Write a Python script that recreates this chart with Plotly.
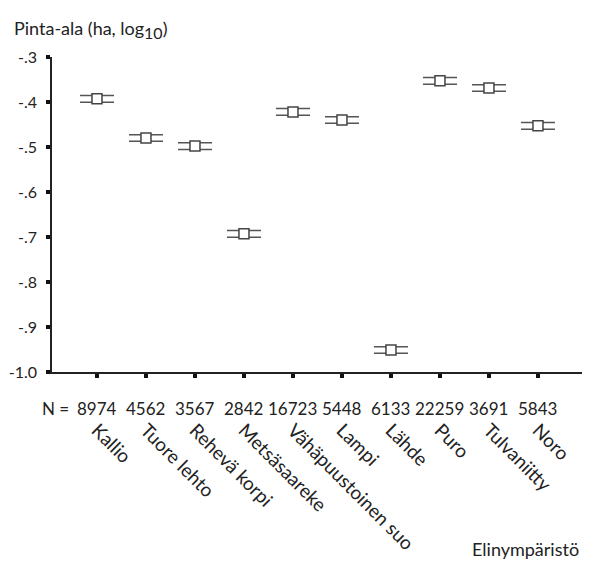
import plotly.graph_objects as go

categories = ["Kallio", "Tuore lehto", "Rehevä korpi", "Metsäsaareke", "Vähäpuustoinen suo",
              "Lampi", "Lähde", "Puro", "Tulvaniitty", "Noro"]
means = [-0.393, -0.480, -0.498, -0.693, -0.422, -0.440, -0.951, -0.353, -0.369, -0.453]
errors = [0.0073, 0.0073, 0.0073, 0.0073, 0.0073, 0.0073, 0.0073, 0.0073, 0.0073, 0.0073]
n_values = ["8974", "4562", "3567", "2842", "16723", "5448", "6133", "22259", "3691", "5843"]
y_ticks = [-1.0, -0.9, -0.8, -0.7, -0.6, -0.5, -0.4, -0.3]
y_ticktext = ["-1.0", "-.9", "-.8", "-.7", "-.6", "-.5", "-.4", "-.3"]

FONT = "Lato, 'Open Sans', sans-serif"
TXT = "#222222"

# page body has an 8px margin; figure is sized/offset to compensate
OFF = 8
W, H = 590 - OFF, 561 - OFF
PL, PT, PW, PH = 52 - OFF, 57 - OFF, 533, 315

xs = list(range(len(categories)))

fig = go.Figure()
fig.add_trace(go.Scatter(
    x=xs, y=means, mode="markers",
    marker=dict(symbol="square", size=10, color="white", line=dict(color="#444444", width=1.5)),
    error_y=dict(type="data", array=errors, visible=True, color="#555555", thickness=1.5, width=17),
    showlegend=False, cliponaxis=False,
))

def py(pix):
    # original image pixel y -> paper y
    return (372 - pix) / PH

def px(pix):
    return (pix - 52) / PW

annotations = []
for i, n in enumerate(n_values):
    annotations.append(dict(x=i, y=py(408), xref="x", yref="paper", text=n, showarrow=False,
                            xanchor="center", yanchor="middle", font=dict(size=17, color=TXT, family=FONT)))
annotations.append(dict(x=px(71), y=py(408), xref="paper", yref="paper", text="N =", showarrow=False,
                        xanchor="right", yanchor="middle", font=dict(size=17, color=TXT, family=FONT)))
annotations.append(dict(x=px(12), y=py(29), xref="paper", yref="paper",
                        text="Pinta-ala (ha, log<sub><span style='font-size:16px'>10</span></sub>)",
                        showarrow=False, xanchor="left", yanchor="middle",
                        font=dict(size=18, color=TXT, family=FONT)))
annotations.append(dict(x=px(581), y=py(549), xref="paper", yref="paper",
                        text="Elinympäristö", showarrow=False,
                        xanchor="right", yanchor="middle", font=dict(size=18, color=TXT, family=FONT)))

fig.update_layout(
    width=W, height=H,
    margin=dict(l=PL, r=W - PL - PW, t=PT, b=H - PT - PH, autoexpand=False),
    paper_bgcolor="white", plot_bgcolor="white",
    font=dict(family=FONT, size=17, color=TXT),
    annotations=annotations,
    xaxis=dict(
        range=[-0.918, 9.96], tickmode="array", tickvals=xs, ticktext=categories,
        tickangle=45, showline=True, linecolor="#222222", linewidth=1.5,
        ticks="outside", ticklen=4, tickwidth=4, tickcolor="#111111",
        showgrid=False, zeroline=False, ticklabelstandoff=34, automargin=False,
        tickfont=dict(size=19, color=TXT, family=FONT),
    ),
    yaxis=dict(
        range=[-1.0, -0.3], tickmode="array", tickvals=y_ticks, ticktext=y_ticktext,
        showline=True, linecolor="#222222", linewidth=1.5,
        ticks="outside", ticklen=4, tickwidth=4, tickcolor="#111111",
        showgrid=False, zeroline=False, ticklabelstandoff=6, automargin=False,
        tickfont=dict(size=16, color=TXT, family=FONT),
    ),
)

fig.write_html("out.html")
